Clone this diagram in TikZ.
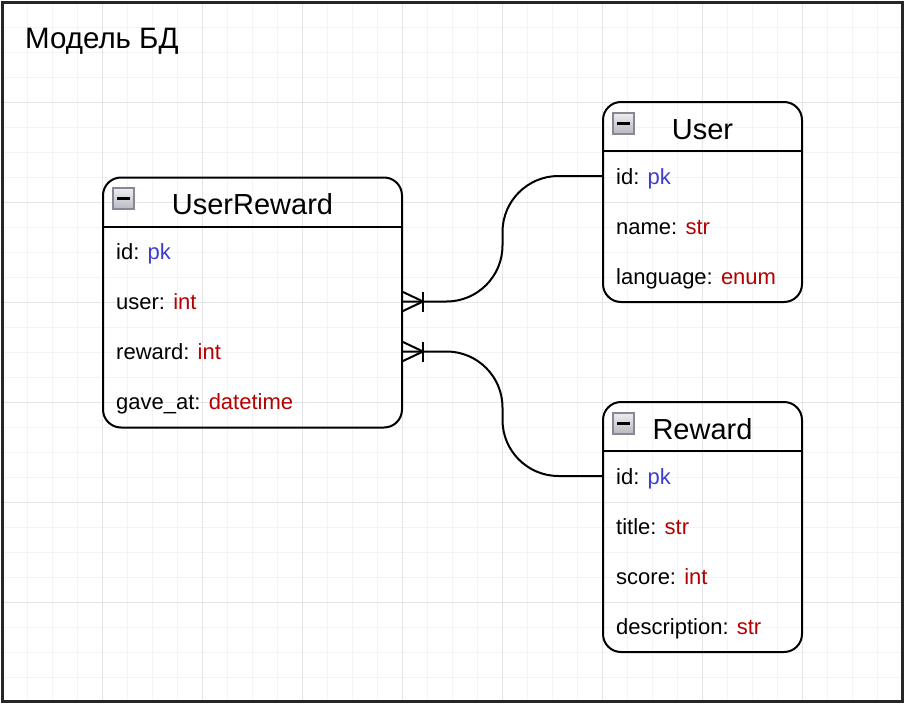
\documentclass[tikz,border=0pt]{standalone}
\usepackage{fontspec}
\setmainfont{Liberation Sans}
\usetikzlibrary{calc}
\definecolor{pkblue}{RGB}{60,60,210}
\definecolor{tyred}{RGB}{180,0,0}
\definecolor{gridminor}{RGB}{244,244,244}
\definecolor{gridmajor}{RGB}{228,228,228}
\definecolor{iconedge}{RGB}{135,135,150}
\definecolor{icontop}{RGB}{238,238,242}
\definecolor{iconbot}{RGB}{185,185,195}
\tikzset{
  tbl/.style={draw=black, line width=2pt, rounded corners=18pt, rectangle, inner sep=0pt},
  hdr/.style={font=\fontsize{29}{32}\selectfont, anchor=base, inner sep=0pt},
  rowtxt/.style={font=\fontsize{22}{26}\selectfont, anchor=base west, inner sep=0pt},
  icon/.style={draw=iconedge, line width=2pt, top color=icontop, bottom color=iconbot,
    minimum size=21pt, inner sep=0pt,
    path picture={\draw[line width=3pt, black] ([xshift=-6.5pt]path picture bounding box.center) -- ([xshift=6.5pt]path picture bounding box.center);}},
  conn/.style={draw=black, line width=2pt},
  sep/.style={draw=black, line width=2pt},
}
\newcommand{\pk}{\textcolor{pkblue}{pk}}
\newcommand{\ty}[1]{\textcolor{tyred}{#1}}
\begin{document}
\begin{tikzpicture}[x=1pt,y=-1pt]
\useasboundingbox (0,0) rectangle (905,704);
% grid
\foreach \i in {27.5,52.5,...,902.5} \draw[gridminor, line width=1pt] (\i,2.5) -- (\i,701.5);
\foreach \i in {27.5,52.5,...,701.5} \draw[gridminor, line width=1pt] (2.5,\i) -- (902.5,\i);
\foreach \i in {102.5,202.5,...,902.5} \draw[gridmajor, line width=1pt] (\i,2.5) -- (\i,701.5);
\foreach \i in {102.5,202.5,...,701.5} \draw[gridmajor, line width=1pt] (2.5,\i) -- (902.5,\i);
% border
\draw[line width=2.5pt, black!85] (2.5,2.5) rectangle (902.5,701.5);
% title
\node[anchor=base west, inner sep=0pt, font=\fontsize{29.5}{32}\selectfont] (title) at (25,48) {Модель БД};

% UserReward
\node[tbl, minimum width=299pt, minimum height=250pt] (UR) at (252.5,302.5) {};
\draw[sep] ($(UR.north west)+(0,50)$) -- ($(UR.north east)+(0,50)$);
\node[hdr] (URh) at ($(UR.north)+(0,38)$) {UserReward};
\node[icon] (URi) at ($(UR.north west)+(21.5,22)$) {};
\node[rowtxt] (URid) at ($(UR.north west)+(14,83)$) {id: \pk};
\node[rowtxt] (URuser) at ($(UR.north west)+(14,133)$) {user: \ty{int}};
\node[rowtxt] (URreward) at ($(UR.north west)+(14,183)$) {reward: \ty{int}};
\node[rowtxt] (URgave) at ($(UR.north west)+(14,233)$) {gave\_at: \ty{datetime}};

% User
\node[tbl, minimum width=199pt, minimum height=200pt] (U) at (702.5,202) {};
\draw[sep] ($(U.north west)+(0,50)$) -- ($(U.north east)+(0,50)$);
\node[hdr] (Uh) at ($(U.north)+(0,38)$) {User};
\node[icon] (Ui) at ($(U.north west)+(21.5,22)$) {};
\node[rowtxt] (Uid) at ($(U.north west)+(14,83)$) {id: \pk};
\node[rowtxt] (Uname) at ($(U.north west)+(14,133)$) {name: \ty{str}};
\node[rowtxt] (Ulang) at ($(U.north west)+(14,183)$) {language: \ty{enum}};

% Reward
\node[tbl, minimum width=199pt, minimum height=250pt] (R) at (702.5,527) {};
\draw[sep] ($(R.north west)+(0,50)$) -- ($(R.north east)+(0,50)$);
\node[hdr] (Rh) at ($(R.north)+(0,38)$) {Reward};
\node[icon] (Ri) at ($(R.north west)+(21.5,22)$) {};
\node[rowtxt] (Rid) at ($(R.north west)+(14,83)$) {id: \pk};
\node[rowtxt] (Rtitle) at ($(R.north west)+(14,133)$) {title: \ty{str}};
\node[rowtxt] (Rscore) at ($(R.north west)+(14,183)$) {score: \ty{int}};
\node[rowtxt] (Rdesc) at ($(R.north west)+(14,233)$) {description: \ty{str}};

% connector end points
\coordinate (ur-user) at ($(UR.north east)+(0,125)$);
\coordinate (ur-reward) at ($(UR.north east)+(0,175)$);
\coordinate (u-id) at ($(U.north west)+(0,75)$);
\coordinate (r-id) at ($(R.north west)+(0,75)$);
\coordinate (m1) at ($(ur-user)!.5!(u-id)$);
\coordinate (m2) at ($(ur-reward)!.5!(r-id)$);

\draw[conn, rounded corners=56pt] (ur-user) -- (ur-user -| m1) -- (u-id -| m1) -- (u-id);
\draw[conn, rounded corners=56pt] (ur-reward) -- (ur-reward -| m2) -- (r-id -| m2) -- (r-id);

% crow's feet (one or many)
\foreach \c in {ur-user,ur-reward}{
  \draw[conn] ($(\c)+(0,-9.5)$) -- ($(\c)+(20,0)$) -- ($(\c)+(0,9.5)$);
  \draw[conn] ($(\c)+(20,-10)$) -- ($(\c)+(20,10)$);
}
\end{tikzpicture}
\end{document}
